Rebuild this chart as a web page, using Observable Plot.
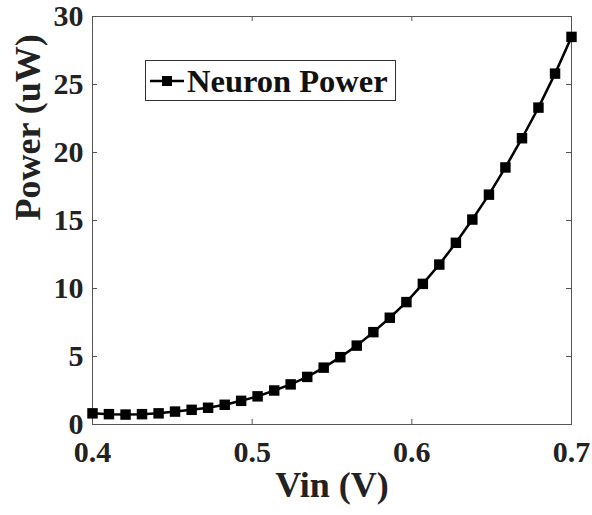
<!DOCTYPE html>
<html>
<head>
<meta charset="utf-8">
<script src="https://cdn.jsdelivr.net/npm/d3@7"></script>
<script src="https://cdn.jsdelivr.net/npm/@observablehq/plot@0.6"></script>
<style>
  html, body { margin: 0; padding: 0; background: #fff; }
  #wrap { position: relative; width: 592px; height: 515px; }
  #legend {
    position: absolute; left: 145px; top: 60px; width: 249px; height: 39px;
    border: 1px solid #333; background: #fff; box-sizing: content-box;
    font-family: "Liberation Serif", "Times New Roman", serif; font-weight: bold;
    font-size: 32.5px; line-height: 39px; white-space: nowrap; color: #111;
  }
  #legend svg { position: absolute; left: 2px; top: 12px; }
  #legend span { position: absolute; left: 41px; top: 1px; }
</style>
</head>
<body>
<div id="wrap"></div>
<script>
const vin = [0.4000, 0.4103, 0.4207, 0.4310, 0.4414, 0.4517, 0.4621, 0.4724, 0.4828, 0.4931,
             0.5034, 0.5138, 0.5241, 0.5345, 0.5448, 0.5552, 0.5655, 0.5759, 0.5862, 0.5966,
             0.6069, 0.6172, 0.6276, 0.6379, 0.6483, 0.6586, 0.6690, 0.6793, 0.6897, 0.7000];
const power = [0.82, 0.76, 0.73, 0.76, 0.82, 0.95, 1.08, 1.23, 1.45, 1.74,
               2.07, 2.50, 2.95, 3.50, 4.18, 4.95, 5.80, 6.79, 7.85, 9.00,
               10.34, 11.76, 13.36, 15.07, 16.90, 18.90, 21.05, 23.30, 25.80, 28.50];
const xTicks = [0.4, 0.5, 0.6, 0.7];
const yTicks = [0, 5, 10, 15, 20, 25, 30];
const xLabel = "Vin (V)";
const yLabel = "Power (uW)";
const seriesName = "Neuron Power";

const data = vin.map((v, i) => ({vin: v, power: power[i]}));

const W = 592, H = 515;
const mL = 92, mR = 21, mT = 16, mB = 91;
const fw = W - mL - mR, fh = H - mT - mB;
const font = '"Liberation Serif", "Times New Roman", serif';
const axisColor = "#555";

const chart = Plot.plot({
  width: W, height: H,
  marginLeft: mL, marginRight: mR, marginTop: mT, marginBottom: mB,
  style: {fontFamily: font, background: "#fff", overflow: "visible"},
  x: {domain: [0.4, 0.7]},
  y: {domain: [0, 30]},
  marks: [
    Plot.frame({stroke: axisColor, strokeWidth: 1}),
    // inward ticks: bottom, top, left, right
    Plot.tickX(xTicks, {x: d => d, stroke: axisColor, insetTop: fh - 5}),
    Plot.tickX(xTicks, {x: d => d, stroke: axisColor, insetBottom: fh - 5}),
    Plot.tickY(yTicks, {y: d => d, stroke: axisColor, insetRight: fw - 5}),
    Plot.tickY(yTicks, {y: d => d, stroke: axisColor, insetLeft: fw - 5}),
    Plot.axisX({ticks: xTicks, tickSize: 0, tickPadding: 16, tickFormat: d3.format(".1f"),
      label: null, fontSize: 30, fontWeight: "bold", fill: "#222"}),
    Plot.axisY({ticks: yTicks, tickSize: 0, tickPadding: 9, tickFormat: d => String(d),
      label: null, fontSize: 30, fontWeight: "bold", fill: "#222"}),
    Plot.text([xLabel], {frameAnchor: "bottom", dy: 72, text: d => d,
      fontSize: 36, fontWeight: "bold", fill: "#222"}),
    Plot.text([yLabel], {frameAnchor: "left", dx: -64, rotate: -90, text: d => d,
      fontSize: 36, fontWeight: "bold", fill: "#222"}),
    Plot.line(data, {x: "vin", y: "power", stroke: "#000", strokeWidth: 2.5}),
    Plot.dot(data, {x: "vin", y: "power", symbol: "square", r: 5.9, fill: "#000", stroke: "none"})
  ]
});

const wrap = document.getElementById("wrap");
wrap.appendChild(chart);
const leg = document.createElement("div");
leg.id = "legend";
leg.innerHTML = `<svg width="38" height="16"><line x1="2" x2="36" y1="8" y2="8" stroke="#000" stroke-width="2.5"/><rect x="14" y="3" width="10" height="10" fill="#000"/></svg><span></span>`;
leg.querySelector("span").textContent = seriesName;
wrap.appendChild(leg);
</script>
</body>
</html>
